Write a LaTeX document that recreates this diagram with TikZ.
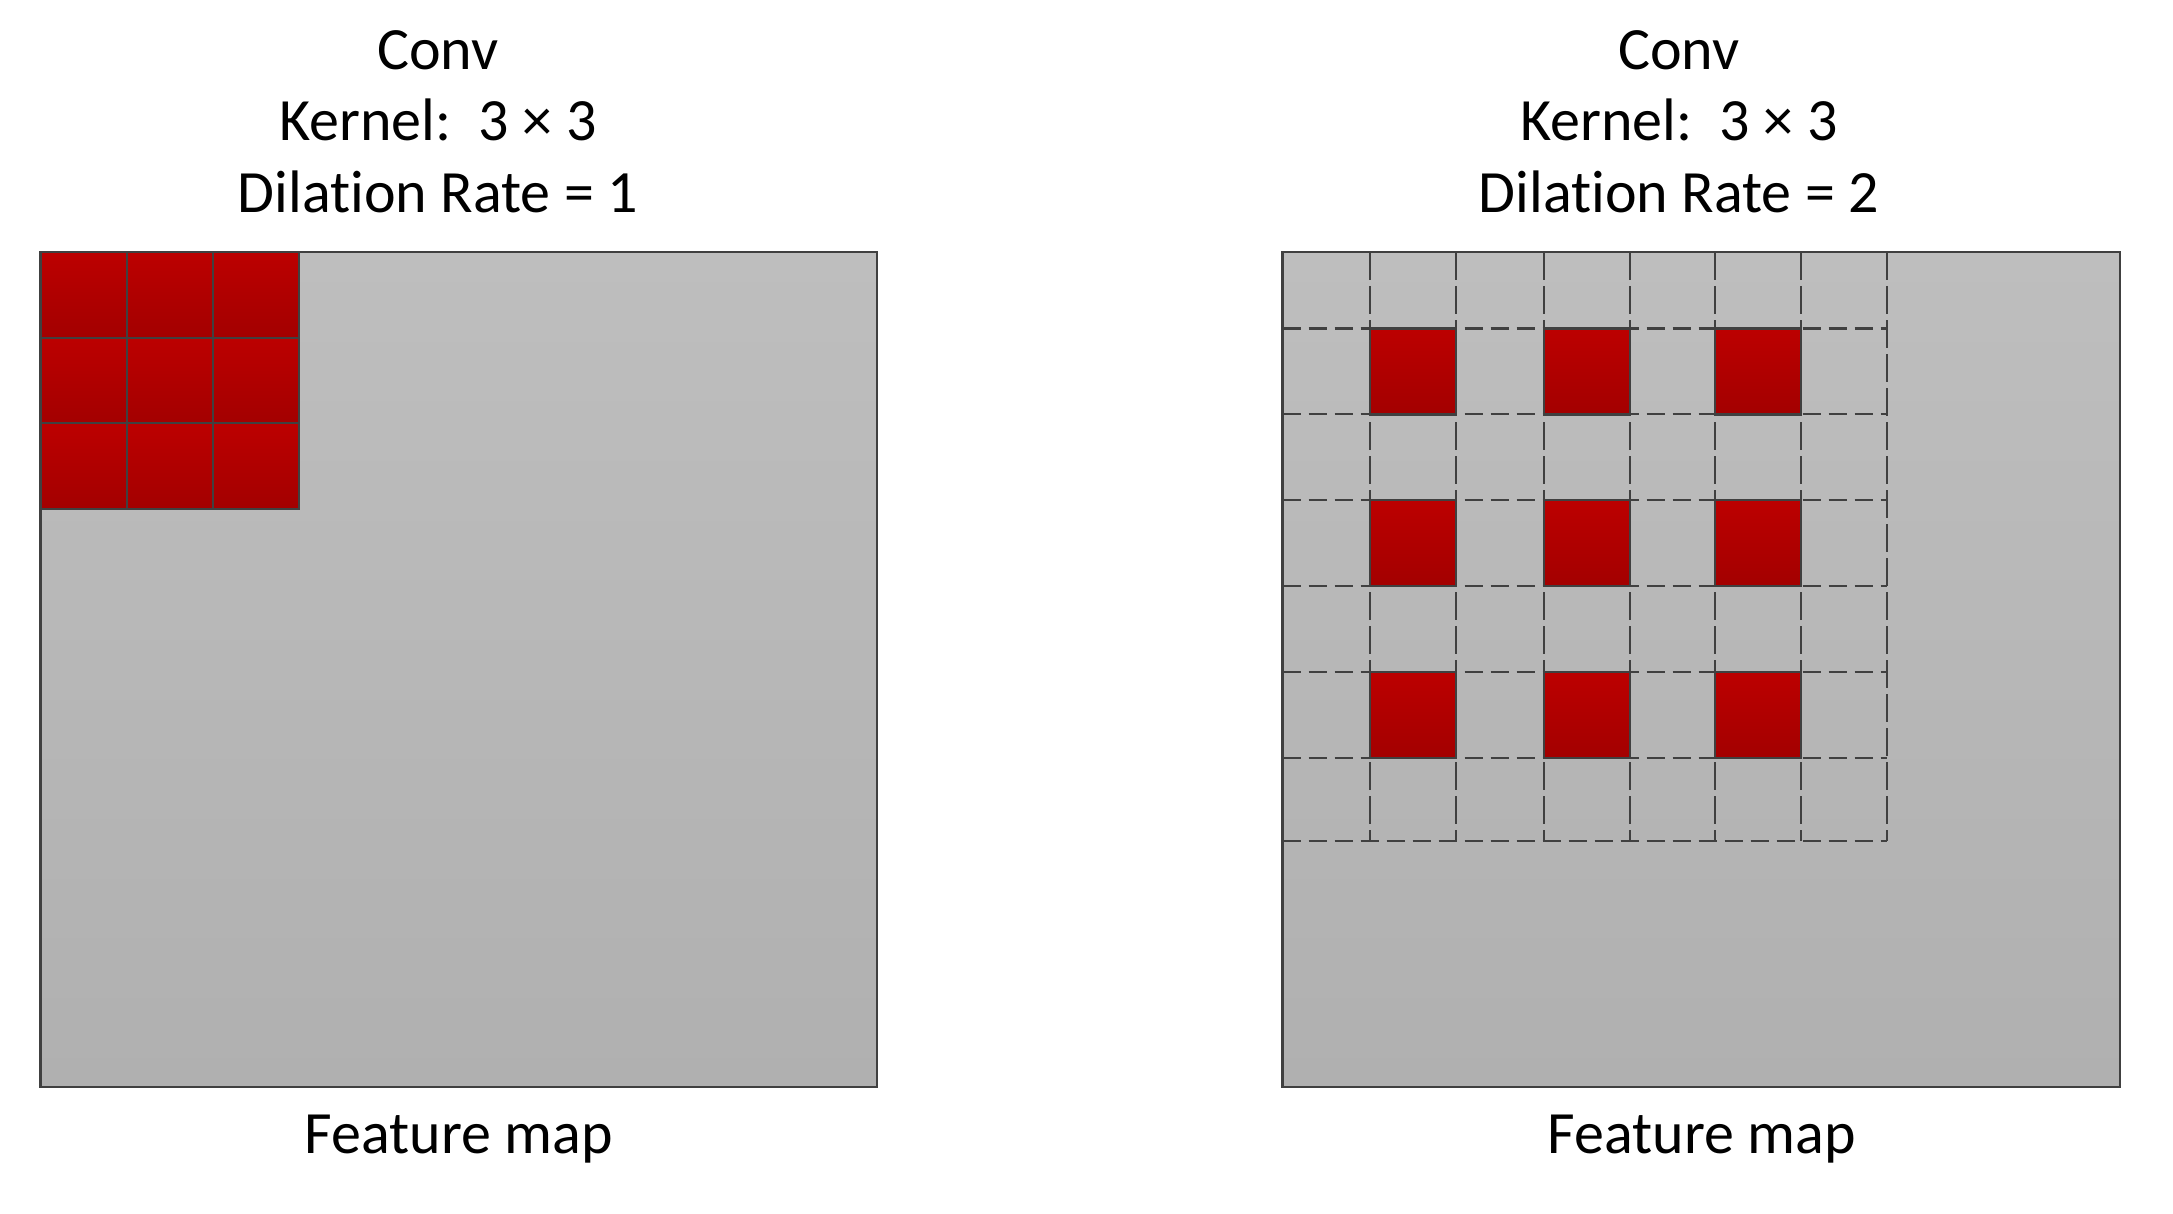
\documentclass[tikz,border=0pt]{standalone}
\usepackage{fontspec}
\setmainfont{Carlito}[Ligatures={NoCommon}]
\begin{document}
\begin{tikzpicture}[x=0.5pt,y=-0.5pt,
  fmap/.style={draw=edgegray,line width=1.1pt,top color=fmtop,bottom color=fmbot},
  kcell/.style={draw=edgegray,line width=1.1pt,top color=redtop,bottom color=redbot},
  hgrid/.style={draw=edgegray,line width=1.1pt,dash pattern=on 9pt off 4pt},
  vgrid/.style={draw=edgegray,line width=1.1pt,dash pattern=on 14pt off 3pt},
  lbl/.style={inner sep=0pt,anchor=base,font=\fontsize{30pt}{36pt}\selectfont}]
\definecolor{edgegray}{HTML}{404040}
\definecolor{fmtop}{HTML}{BEBEBE}
\definecolor{fmbot}{HTML}{B0B0B0}
\definecolor{redtop}{HTML}{BC0000}
\definecolor{redbot}{HTML}{A30000}
\useasboundingbox[fill=white] (0,0) rectangle (2173,1214);

% ---------- left panel ----------
\path[fmap] (40.5,252) rectangle (877,1087);
\foreach \i in {0,1,2}{
  \foreach \j in {0,1,2}{
    \path[kcell] ({40.5+86.2*\i},{252+85.6*\j}) rectangle ({40.5+86.2*(\i+1)},{252+85.6*(\j+1)});
  }
}
\node[lbl] (l1) at (438,70) {Conv};
\node[lbl] (l2) at (438,141) {Kernel:\ \ 3 × 3};
\node[lbl] (l3) at (438,213) {Dilation Rate = 1};
\node[lbl] (lf) at (459,1153) {Feature map};

% ---------- right panel ----------
\path[fmap] (1282.5,252) rectangle (2120,1087);
\foreach \x in {1370,1456,1544,1630,1715,1801,1887}{
  \draw[vgrid] (\x,252) -- (\x,841);
}
\foreach \y in {328.5,414,500,586,672,758,841}{
  \draw[hgrid] (1282.5,\y) -- (1887,\y);
}
\foreach \cx in {1370,1544,1715}{
  \foreach \cy in {328.5,500,672}{
    \path[kcell] (\cx,\cy) rectangle ({\cx+86},{\cy+86});
  }
}
\node[lbl] (r1) at (1679,70) {Conv};
\node[lbl] (r2) at (1679,141) {Kernel:\ \ 3 × 3};
\node[lbl] (r3) at (1679,213) {Dilation Rate = 2};
\node[lbl] (rf) at (1702,1153) {Feature map};
\end{tikzpicture}
\end{document}
